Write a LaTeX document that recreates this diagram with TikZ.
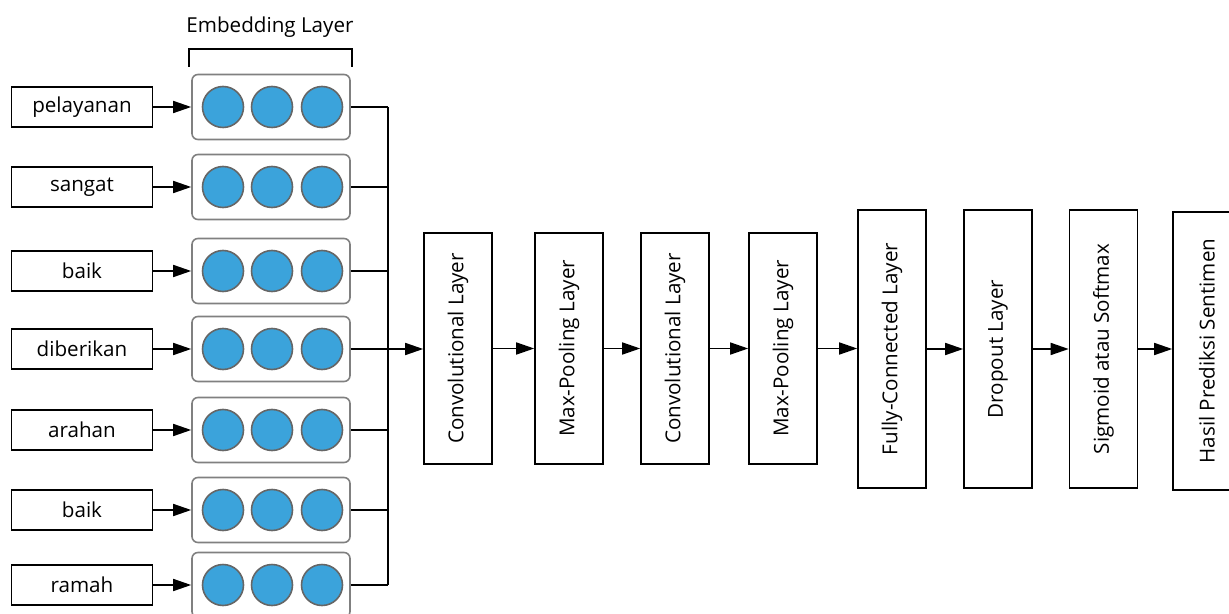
\documentclass[tikz,border=0pt]{standalone}
\usepackage{fontspec}
\setmainfont{Open Sans}
\usetikzlibrary{arrows.meta,positioning}
\definecolor{unitblue}{HTML}{3BA3DB}

\begin{document}
\begin{tikzpicture}[x=0.5pt,y=-0.5pt,>={Triangle[length=9pt,width=6pt]},line width=0.8pt,
  font=\fontsize{10.3}{12}\selectfont,
  word/.style={draw,minimum width=70.5pt,minimum height=20pt,inner sep=0pt},
  embed/.style={draw=black!50,rounded corners=3pt,minimum width=79pt,minimum height=32.5pt},
  unit/.style={circle,draw=black!60,fill=unitblue,minimum size=20.5pt,inner sep=0pt},
  layer/.style={draw,minimum width=34pt,minimum height=115.5pt,inner sep=0pt},
  biglayer/.style={layer,minimum height=139pt}]

  \useasboundingbox (0,0) rectangle (1229,614);

  % embedding layer
  \node (emblabel) at (270,27) {Embedding Layer};
  \draw (189,67) -- (189,49) -- (352,49) -- (352,67);

  \foreach \n/\y/\txt in {1/107/pelayanan,2/187/sangat,3/271/baik,4/349/diberikan,
                          5/430/arahan,6/510/baik,7/585/ramah} {
    \node[word]  (w\n) at (82,\y)  {\txt};
    \node[embed] (e\n) at (271,\y) {};
    \foreach \x in {223,272,322}
      \node[unit] at (\x,\y) {};
    \path[->] (w\n) edge (e\n);
  }

  \coordinate (bustop) at (388,107);
  \coordinate (busbot) at (388,585);
  \draw (bustop) -- (busbot);
  \foreach \n in {1,2,3,5,6,7}
    \draw (e\n.east) -- (e\n.east -| bustop);

  % layers
  \node[layer]    (conv1) at (458,348.5)  {\rotatebox{90}{Convolutional Layer}};
  \node[layer]    (pool1) at (569,348.5)  {\rotatebox{90}{Max-Pooling Layer}};
  \node[layer]    (conv2) at (675,348.5)  {\rotatebox{90}{Convolutional Layer}};
  \node[layer]    (pool2) at (783,348.5)  {\rotatebox{90}{Max-Pooling Layer}};
  \node[biglayer] (fc)    at (892,349)    {\rotatebox{90}{Fully-Connected Layer}};
  \node[biglayer] (drop)  at (998,349)    {\rotatebox{90}{Dropout Layer}};
  \node[biglayer] (sig)   at (1103.5,349) {\rotatebox{90}{Sigmoid atau Softmax}};
  \node[biglayer] (hasil) at (1207,351)   {\rotatebox{90}{Hasil Prediksi Sentimen}};

  \path[->] (e4.east) edge (e4.east -| conv1.west)
            (conv1) edge (pool1)
            (pool1) edge (conv2)
            (conv2) edge (pool2)
            (pool2.east) edge (pool2.east -| fc.west)
            (fc) edge (drop)
            (drop) edge (sig)
            (sig.east) edge (sig.east -| hasil.west);
\end{tikzpicture}
\end{document}
